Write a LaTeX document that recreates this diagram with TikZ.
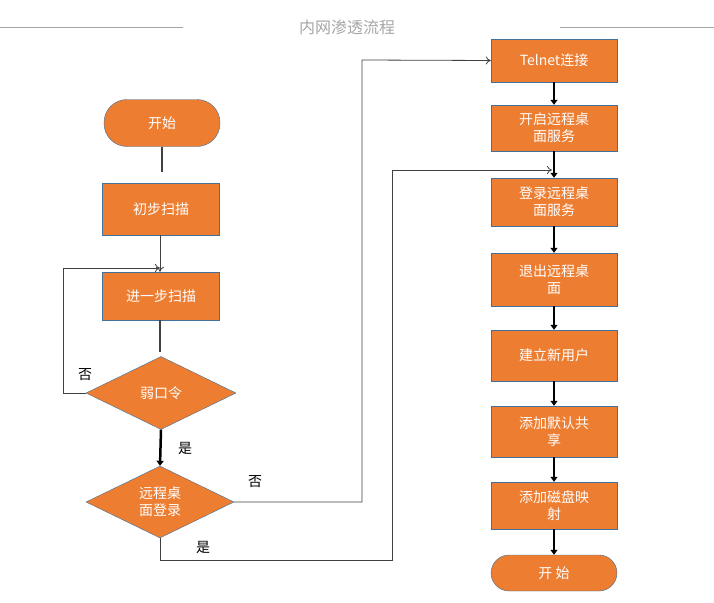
\documentclass[tikz,border=0pt]{standalone}
\usepackage{fontspec}
\setmainfont{Noto Sans CJK SC}
\usetikzlibrary{shapes.geometric,arrows.meta}
\definecolor{og}{HTML}{ED7D31}
\definecolor{bd}{HTML}{41719C}
\begin{document}
\begin{tikzpicture}[x=1pt,y=-1pt,
 box/.style={draw=bd,fill=og,text=white,font=\fontsize{14}{17}\selectfont,align=center,inner sep=0pt},
 lbl/.style={font=\fontsize{14}{17}\selectfont},
 ln/.style={draw=black!75,line width=0.8pt},
 thk/.style={draw=black,line width=2.5pt,-{Triangle[length=5pt,width=7pt]}},
 open/.style={ln,-{To[length=5pt,width=8pt]}}]
\useasboundingbox (0,0) rectangle (714,602);
\node[text=black!35,font=\fontsize{16}{19}\selectfont] (title) at (347,27) {内网渗透流程};
\draw[black!35,line width=0.6pt] (0,27) coordinate (t1) -- (183,27) coordinate (t2);
\draw[black!35,line width=0.6pt] (560,27) coordinate (t3) -- (714,27) coordinate (t4);
% left column
\node[box,rounded corners=23pt,minimum width=116pt,minimum height=47pt] (s) at (162,123) {开始};
\node[box,minimum width=117pt,minimum height=52pt] (b1) at (161,209) {初步扫描};
\node[box,minimum width=117pt,minimum height=48pt] (b2) at (161,296) {进一步扫描};
\node[box,diamond,aspect=2.05,minimum width=150pt,minimum height=73pt] (d1) at (161,393) {弱口令};
\node[box,diamond,aspect=2.05,minimum width=148pt,minimum height=72pt] (d2) at (160,502) {远程桌\\面登录};
\draw[ln,line width=1.2pt] (162,147) -- (162,172) coordinate (c0);
\draw[open] (160,235) -- (b2.north-|160,0);
\draw[ln,line width=1.2pt] (160,320) -- (160,352) coordinate (c1);
\coordinate (l1) at (63,393); \coordinate (l2) at (63,268);
\draw[open] (d1.west) -- (l1) -- (l2) -- (160,268);
\node[lbl] (n1) at (85,375) {否};
\draw[thk] (d1.south) -- (d2.north);
\node[lbl] (y1) at (185,448) {是};
\node[lbl] (n2) at (255,482) {否};
\node[lbl] (y2) at (203,547) {是};
% right column
\node[box,minimum width=126pt,minimum height=43pt] (r1) at (554,60.5) {Telnet连接};
\node[box,minimum width=126pt,minimum height=46pt] (r2) at (554,128) {开启远程桌\\面服务};
\node[box,minimum width=126pt,minimum height=48pt] (r3) at (554,202) {登录远程桌\\面服务};
\node[box,minimum width=126pt,minimum height=53pt] (r4) at (554,279.5) {退出远程桌\\面};
\node[box,minimum width=126pt,minimum height=51pt] (r5) at (554,355.5) {建立新用户};
\node[box,minimum width=126pt,minimum height=51pt] (r6) at (554,431.5) {添加默认共\\享};
\node[box,minimum width=126pt,minimum height=47pt] (r7) at (554,505.5) {添加磁盘映\\射};
\node[box,rounded corners=18pt,minimum width=126pt,minimum height=36pt] (e) at (554,573) {开\ 始};
\foreach \a/\b in {r1/r2,r2/r3,r3/r4,r4/r5,r5/r6,r6/r7,r7/e}
  \draw[thk,line width=2pt] (\a.south) -- (\b.north);
\coordinate (p1) at (362,502); \coordinate (p2) at (362,60);
\draw[open] (d2.east) -- (p1) -- (p2) -- (r1.west);
\coordinate (q1) at (160,560); \coordinate (q2) at (392,560); \coordinate (q3) at (392,170);
\draw[open] (d2.south) -- (q1) -- (q2) -- (q3) -- (552,170);
\end{tikzpicture}
\end{document}
